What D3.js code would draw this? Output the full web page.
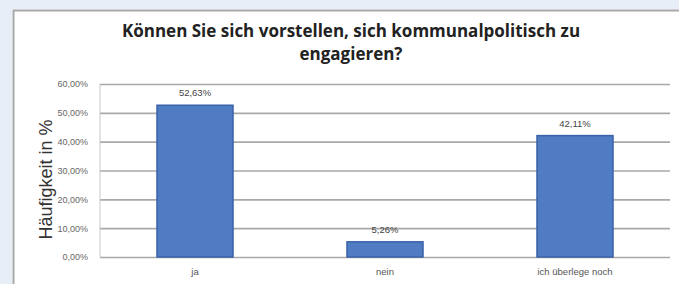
<!DOCTYPE html>
<html>
<head>
<meta charset="utf-8">
<style>
  body { margin: 0; background: #e8eef8; }
  svg { display: block; }
</style>
</head>
<body>
<svg id="chart"></svg>
<script src="https://d3js.org/d3.v7.min.js"></script>
<script>
var categories = ["ja", "nein", "ich überlege noch"];
var values = [52.63, 5.26, 42.11];
var labels = ["52,63%", "5,26%", "42,11%"];
var yTicks = [0, 10, 20, 30, 40, 50, 60];
var titleLines = ["Können Sie sich vorstellen, sich kommunalpolitisch zu", "engagieren?"];
var yTitle = "Häufigkeit in %";

var width = 679, height = 284;
var svg = d3.select("#chart").attr("width", width).attr("height", height);

// white chart panel with grey frame
svg.append("rect").attr("x", 12).attr("y", 9).attr("width", width - 12).attr("height", height - 9)
  .attr("fill", "#ffffff");
svg.append("path").attr("d", "M13.5," + height + "V10.5H" + width)
  .attr("stroke", "#a8a8a8").attr("stroke-width", 2).attr("fill", "none");

var padding = {top: 84, right: 9, bottom: 27, left: 100};
var x = d3.scaleBand().domain(categories).range([padding.left, width - padding.right]).paddingInner(0.6).paddingOuter(0.3);
var y = d3.scaleLinear().domain([0, 60]).range([height - padding.bottom, padding.top]);

// grid lines + y labels
var yAxis = d3.axisLeft(y).tickValues(yTicks)
  .tickSize(-(width - padding.right - padding.left))
  .tickFormat(function(d){ return d.toFixed(2).replace(".", ",") + "%"; })
  .tickPadding(12);
var gy = svg.append("g").attr("transform", "translate(" + padding.left + ",0)").call(yAxis);
gy.select(".domain").remove();
gy.selectAll("line").attr("stroke", "#a9a9a9").attr("stroke-width", 1.6);
gy.selectAll("text").attr("fill", "#666").style("font-family", "Liberation Sans, Arial").style("font-size", "9px");

// left vertical axis line
svg.append("line").attr("x1", padding.left).attr("x2", padding.left)
  .attr("y1", y(60)).attr("y2", y(0)).attr("stroke", "#c8c8c8").attr("stroke-width", 1);

// bars
svg.selectAll(".bar").data(values).enter().append("rect")
  .attr("x", function(d, i){ return x(categories[i]); })
  .attr("y", function(d){ return y(d); })
  .attr("width", x.bandwidth())
  .attr("height", function(d){ return y(0) - y(d); })
  .attr("fill", "#4f7cc3").attr("stroke", "#3a62a8").attr("stroke-width", 1.5);

// value labels
svg.selectAll(".lbl").data(values).enter().append("text")
  .attr("x", function(d, i){ return x(categories[i]) + x.bandwidth() / 2; })
  .attr("y", function(d){ return y(d) - 9; })
  .attr("text-anchor", "middle").attr("fill", "#444")
  .style("font-family", "Liberation Sans, Arial").style("font-size", "9.5px")
  .text(function(d, i){ return labels[i]; });

// category labels
var xAxis = d3.axisBottom(x).tickSize(0).tickPadding(11);
var gx = svg.append("g").attr("transform", "translate(0," + y(0) + ")").call(xAxis);
gx.select(".domain").remove();
gx.selectAll("text").attr("fill", "#555").style("font-family", "Liberation Sans, Arial").style("font-size", "9.5px");

// title
svg.selectAll(".title").data(titleLines).enter().append("text")
  .attr("x", 351).attr("y", function(d, i){ return 37 + i * 23; })
  .attr("text-anchor", "middle").attr("fill", "#222")
  .style("font-family", "Open Sans, sans-serif").style("font-weight", "bold").style("font-size", "17px")
  .text(function(d){ return d; });

// y title
svg.append("text").attr("transform", "translate(52," + ((y(0) + y(60)) / 2 + 9) + ") rotate(-90)")
  .attr("text-anchor", "middle").attr("fill", "#333")
  .style("font-family", "Liberation Sans, Arial").style("font-size", "18px")
  .text(yTitle);
</script>
</body>
</html>
